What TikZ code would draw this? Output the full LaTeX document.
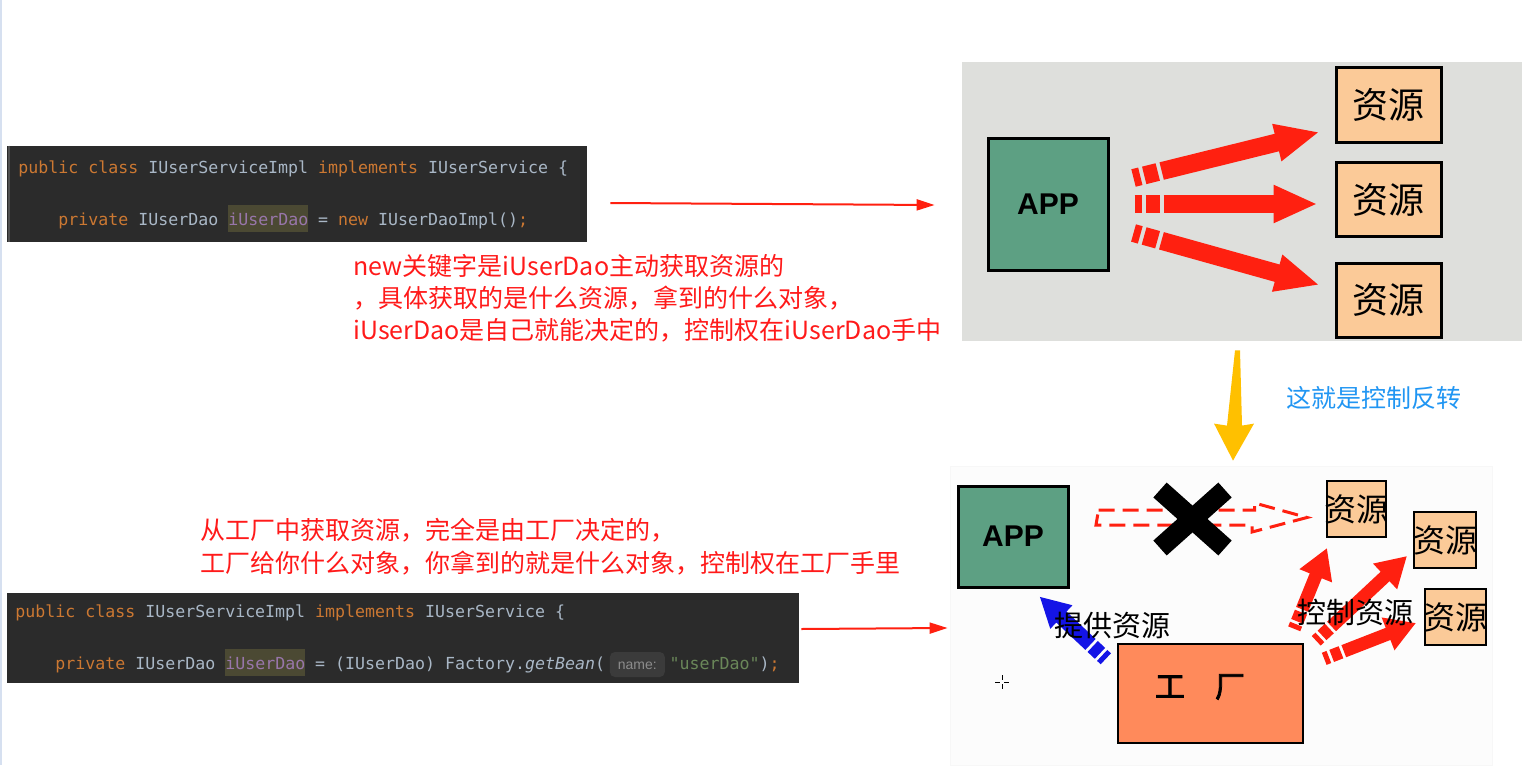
\documentclass[tikz,border=0pt]{standalone}
\usepackage{fontspec}
\setmainfont{Liberation Sans}
\setsansfont{Liberation Sans}
\setmonofont{DejaVu Sans Mono}
\newfontfamily\cjk{Noto Sans CJK SC}
\newfontfamily\cjkbold{Noto Sans CJK SC}[FakeBold=2.5]
\usetikzlibrary{arrows.meta,positioning,calc}
\definecolor{CodeBg}{HTML}{2B2B2B}
\definecolor{CodeEdge}{HTML}{505050}
\definecolor{CodeKw}{HTML}{CC7832}
\definecolor{CodeTxt}{HTML}{A9B7C6}
\definecolor{CodeFld}{HTML}{9876AA}
\definecolor{CodeStr}{HTML}{6A8759}
\definecolor{CodeHl}{HTML}{4B4933}
\definecolor{HintBg}{HTML}{3B3B3B}
\definecolor{HintTxt}{HTML}{8C8C8C}
\definecolor{NoteRed}{HTML}{FF1A1A}
\definecolor{ArrowRed}{HTML}{FF2010}
\definecolor{NoteBlue}{HTML}{2196F3}
\definecolor{Gold}{HTML}{FFC000}
\definecolor{SlideGray}{HTML}{DEDFDC}
\definecolor{AppGreen}{HTML}{5DA083}
\definecolor{ResPeach}{HTML}{FBCA98}
\definecolor{FactoryOrange}{HTML}{FF8A5B}
\definecolor{PushBlue}{HTML}{1414E6}
\definecolor{EdgeBlue}{HTML}{D6E0F0}

\newcommand{\kw}[1]{\textcolor{CodeKw}{#1}}
\newcommand{\fld}[1]{{\setlength{\fboxsep}{0pt}\colorbox{CodeHl}{\rule[-3.5pt]{0pt}{13.5pt}\textcolor{CodeFld}{#1}}}}

\tikzset{
  codebox/.style={fill=CodeBg,inner sep=0pt},
  codeline/.style={anchor=base west,inner sep=0pt,font=\ttfamily\fontsize{8.3}{10}\selectfont,text=CodeTxt},
  hintbox/.style={anchor=base west,fill=HintBg,rounded corners=2.5pt,inner xsep=4pt,inner ysep=0pt,text height=8.5pt,text depth=4pt,font=\sffamily\fontsize{7}{8}\selectfont,text=HintTxt},
  notetext/.style={anchor=base west,inner sep=0pt,font=\cjk\fontsize{12.5}{16}\selectfont,text=NoteRed},
  thinarrow/.style={ArrowRed,line width=1pt,-{Triangle[length=9pt,width=5.5pt]}},
  appbox/.style={draw=black,line width=1.5pt,fill=AppGreen,inner sep=0pt,font=\sffamily\bfseries\fontsize{15}{17}\selectfont},
  resbox/.style={draw=black,line width=1.5pt,fill=ResPeach,inner sep=0pt},
  restext/.style={inner sep=0pt,font=\cjk\fontsize{16}{18}\selectfont},
  fatarrow/.style={ArrowRed,line width=9pt,-{Triangle[length=22pt,width=17.5pt]},dash pattern=on 3.5pt off 2pt on 7pt off 2pt on 400pt off 1pt},
  fatarrowsmall/.style={ArrowRed,line width=6.5pt,-{Triangle[length=15pt,width=16.5pt]},dash pattern=on 2.5pt off 1.5pt on 5pt off 1.5pt on 400pt off 1pt},
  tag/.style={inner sep=0pt,font=\cjk\fontsize{14.5}{16}\selectfont}
}

\begin{document}
\begin{tikzpicture}[x=0.5pt,y=-0.5pt]
\fill[white] (0,0) rectangle (1540,765);
\useasboundingbox (0,0) rectangle (1540,765);
\draw[EdgeBlue,line width=1pt] (1,0) -- (1,765);

% code blocks
\node[codebox,minimum width=290pt,minimum height=48pt] (code1) at (297,194) {};
\draw[CodeEdge,line width=1pt] ([shift={(2,0)}]code1.north west) -- ([shift={(2,0)}]code1.south west);
\node[codeline] (c1a) at (18,173) {\kw{public class} IUserServiceImpl \kw{implements} IUserService \{};
\node[codeline] (c1b) at (58,225) {\kw{private} IUserDao \fld{iUserDao} = \kw{new} IUserDaoImpl()\kw{;}};

\node[codebox,minimum width=396pt,minimum height=45pt] (code2) at (403,638) {};
\node[codeline] (c2a) at (15,617) {\kw{public class} IUserServiceImpl \kw{implements} IUserService \{};
\node[codeline] (c2b) at (55,669) {\kw{private} IUserDao \fld{iUserDao} = (IUserDao) Factory.{\itshape getBean}(};
\node[hintbox] (hint) at ([xshift=2pt]c2b.base east) {name:};
\node[codeline] (c2c) at ([xshift=2pt]hint.base east) {\textcolor{CodeStr}{"userDao"})\kw{;}};

% notes
\foreach \y/\s [count=\i] in {275/new关键字是iUserDao主动获取资源的,307/，具体获取的是什么资源，拿到的什么对象，,339/iUserDao是自己就能决定的，控制权在iUserDao手中}
  {\node[notetext] (noteA\i) at (353,\y) {\s};}
\foreach \y/\s [count=\i] in {539/从工厂中获取资源，完全是由工厂决定的，,572/工厂给你什么对象，你拿到的就是什么对象，控制权在工厂手里}
  {\node[notetext] (noteB\i) at (200,\y) {\s};}
\node[font=\cjk\fontsize{12.5}{16}\selectfont,text=NoteBlue,inner sep=0pt] (ioc) at (1374,398) {这就是控制反转};

% top slide: app pulls resources
\node[fill=SlideGray,minimum width=280pt,minimum height=139.5pt,inner sep=0pt] (topimg) at (1242,201.5) {};
\node[appbox,minimum width=60pt,minimum height=66pt] (app1) at (1048,204) {APP};
\foreach \y [count=\i] in {105,199.5,300}
  {\node[resbox,minimum width=52.5pt,minimum height=37pt,font=\cjk\fontsize{18}{20}\selectfont] (resT\i) at (1388.5,\y) {资源};}
\draw[fatarrow] ([shift={(24,-26)}]app1.east) -- ([shift={(-15,27)}]resT1.west);
\draw[fatarrow] ([shift={(25,0)}]app1.east) -- ([shift={(-17,4.5)}]resT2.west);
\draw[fatarrow] ([shift={(24,29)}]app1.east) -- ([shift={(-15,-15)}]resT3.west);

% bottom slide: factory hands out resources
\node[draw=black!3,fill=black!1,minimum width=271pt,minimum height=149.5pt,inner sep=0pt] (botimg) at (1221,615.5) {};
\node[appbox,minimum width=55pt,minimum height=50.5pt] (app2) at (1013,536.5) {APP};
\node[resbox,line width=1pt,minimum width=29.5pt,minimum height=28pt] (resA) at (1356.5,509) {};
\node[resbox,line width=1pt,minimum width=31pt,minimum height=28pt] (resB) at (1445,540) {};
\node[resbox,line width=1pt,minimum width=30.5pt,minimum height=28pt] (resC) at (1455.5,617) {};
\node[restext] (resAt) at (resA) {资源};
\node[restext] (resBt) at (resB) {资源};
\node[restext] (resCt) at (resC) {资源};
\node[draw=black,line width=1.2pt,fill=FactoryOrange,minimum width=92.5pt,minimum height=49.5pt,inner sep=0pt] (factory) at (1210.5,693.5) {};
\node[inner sep=0pt,font=\cjkbold\fontsize{15}{16}\selectfont] (factoryt) at (1200,687) {工\quad 厂};

\coordinate (xs) at ([shift={(29,-19)}]app2.east);
\coordinate (xt) at ([shift={(-19,8.5)}]resA.west);
\draw[ArrowRed,line width=1.5pt,dash pattern=on 8pt off 4pt] (xs) ++(0,-7.5) -- ++(156,0) -- ++(0,-7) -- (xt) -- ++(-55,14.5) -- ++(0,-7) -- ++(-156,0) -- cycle;
\draw[black,line width=10pt] (1160,490) -- (1225,548);
\draw[black,line width=10pt] (1225,490) -- (1160,548);

\draw[fatarrowsmall,PushBlue,line width=7.5pt,-{Triangle[length=15pt,width=15pt]}] ([shift={(-11,16)}]factory.north west) -- ([shift={(-30,8)}]app2.south east);
\draw[fatarrowsmall] ([shift={(-10,-14)}]factory.north east) -- ([shift={(1,10)}]resA.south west);
\draw[fatarrowsmall] ([shift={(12,-2)}]factory.north east) -- ([shift={(-6,-13)}]resB.south west);
\draw[fatarrowsmall] ([shift={(20,16)}]factory.north east) -- ([shift={(-8,6)}]resC.west);
\node[tag] (supply) at (1112,626) {提供资源};
\node[tag] (control) at (1355,612) {控制资源};
\draw[line width=0.5pt] (995,682) -- (1000,682) (1004,682) -- (1009,682) (1002,675) -- (1002,680) (1002,684) -- (1002,689);

% connectors between the parts
\draw[thinarrow] ([shift={(23,9)}]code1.east) -- ([shift={(-27,3.5)}]topimg.west);
\draw[thinarrow] ([shift={(2,-9)}]code2.east) -- ([shift={(-2,12.5)}]botimg.west);
\coordinate (ytop) at ([shift={(-4.5,9)}]topimg.south);
\coordinate (ytip) at ([shift={(12,-5)}]botimg.north);
\fill[Gold] ([shift={(-2.5,0)}]ytop) -- ([shift={(2.5,0)}]ytop) -- ([shift={(9,-35)}]ytip) -- ([shift={(21,-37)}]ytip) -- (ytip) -- ([shift={(-19,-37)}]ytip) -- ([shift={(-6,-35)}]ytip) -- cycle;
\end{tikzpicture}
\end{document}
